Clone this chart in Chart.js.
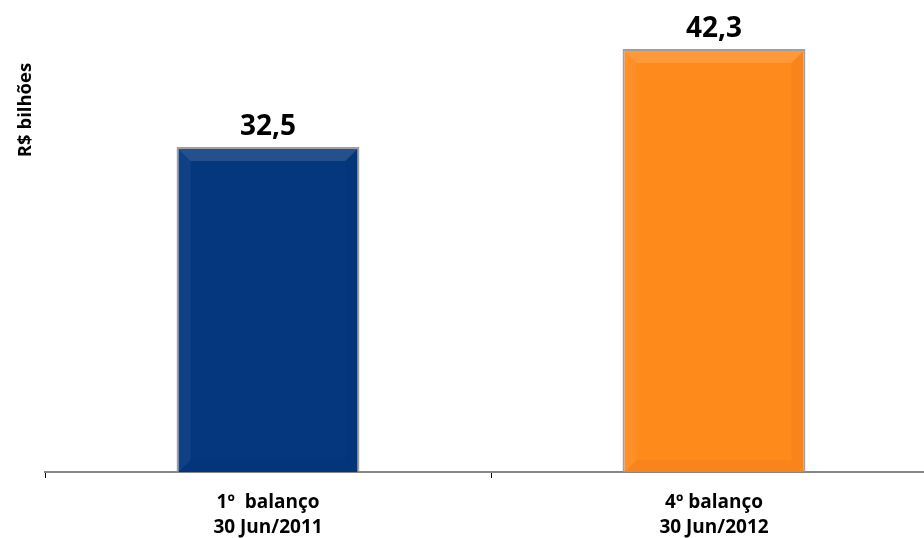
<!DOCTYPE html>
<html>
<head>
<meta charset="utf-8">
<script src="https://cdn.jsdelivr.net/npm/chart.js@4/dist/chart.umd.min.js"></script>
<style>
  html, body { margin: 0; padding: 0; background: #fff; overflow: hidden; }
  #wrap { position: relative; width: 938px; height: 538px; }
</style>
</head>
<body>
<div id="wrap"><canvas id="c"></canvas></div>
<script>
const categories = [["1º  balanço", "30 Jun/2011"], ["4º balanço", "30 Jun/2012"]];
const values = [32.5, 42.3];
const valueLabels = ["32,5", "42,3"];
const barColors = ["#05377E", "#FF8A1C"];
const yAxisTitle = "R$ bilhões";

const bevelPlugin = {
  id: 'bevel',
  afterDatasetsDraw(chart) {
    const ctx = chart.ctx;
    const meta = chart.getDatasetMeta(0);
    meta.data.forEach((el) => {
      const p = el.getProps(['x', 'y', 'base', 'width'], true);
      const bw = 2;
      const x0 = p.x - p.width / 2 + bw, x1 = p.x + p.width / 2 - bw;
      const y0 = p.y + bw, y1 = p.base;
      const b = 12;
      const poly = (pts, fill) => {
        ctx.beginPath();
        ctx.moveTo(pts[0][0], pts[0][1]);
        for (let i = 1; i < pts.length; i++) ctx.lineTo(pts[i][0], pts[i][1]);
        ctx.closePath();
        ctx.fillStyle = fill;
        ctx.fill();
      };
      ctx.save();
      poly([[x0, y0], [x1, y0], [x1 - b, y0 + b], [x0 + b, y0 + b]], 'rgba(255,255,255,0.13)');
      poly([[x0, y0], [x0 + b, y0 + b], [x0 + b, y1 - b], [x0, y1]], 'rgba(255,255,255,0.05)');
      poly([[x1, y0], [x1 - b, y0 + b], [x1 - b, y1 - b], [x1, y1]], 'rgba(0,0,0,0.03)');
      poly([[x0, y1], [x0 + b, y1 - b], [x1 - b, y1 - b], [x1, y1]], 'rgba(0,0,0,0.03)');
      ctx.restore();
    });
  }
};

const valueLabelPlugin = {
  id: 'valueLabels',
  afterDatasetsDraw(chart) {
    const ctx = chart.ctx;
    const meta = chart.getDatasetMeta(0);
    ctx.save();
    ctx.font = 'bold 28px "Open Sans"';
    ctx.fillStyle = '#000';
    ctx.textAlign = 'center';
    ctx.textBaseline = 'alphabetic';
    meta.data.forEach((el, i) => {
      ctx.fillText(valueLabels[i], el.x, el.y - 12);
    });
    ctx.restore();
  }
};

const yTitlePlugin = {
  id: 'yTitle',
  afterDraw(chart) {
    const ctx = chart.ctx;
    ctx.save();
    ctx.translate(31, 110);
    ctx.rotate(-Math.PI / 2);
    ctx.font = 'bold 18.5px "Open Sans"';
    ctx.fillStyle = '#000';
    ctx.textAlign = 'center';
    ctx.textBaseline = 'alphabetic';
    ctx.fillText(yAxisTitle, 0, 0);
    ctx.restore();
  }
};

new Chart(document.getElementById('c'), {
  type: 'bar',
  data: {
    labels: categories,
    datasets: [{
      data: values,
      backgroundColor: barColors,
      borderColor: 'rgba(150,150,150,0.9)',
      borderWidth: 2,
      borderSkipped: 'start',
      barPercentage: 0.41,
      categoryPercentage: 1.0
    }]
  },
  options: {
    responsive: true,
    maintainAspectRatio: false,
    animation: false,
    layout: { padding: { left: 45, right: 1, top: 22, bottom: 0 } },
    plugins: { legend: { display: false }, tooltip: { enabled: false } },
    scales: {
      x: {
        afterFit: (s) => { s.height = 66; },
        border: { display: true, color: '#868686', width: 2 },
        grid: { display: true, drawOnChartArea: false, drawTicks: true, tickLength: 6, color: '#000', lineWidth: 1, offset: true },
        ticks: { color: '#000', font: { family: 'Open Sans', weight: 'bold', size: 19, lineHeight: 1.33 }, padding: 12, maxRotation: 0 }
      },
      y: {
        display: false,
        min: 0,
        max: 45
      }
    }
  },
  plugins: [bevelPlugin, valueLabelPlugin, yTitlePlugin]
});
</script>
</body>
</html>
